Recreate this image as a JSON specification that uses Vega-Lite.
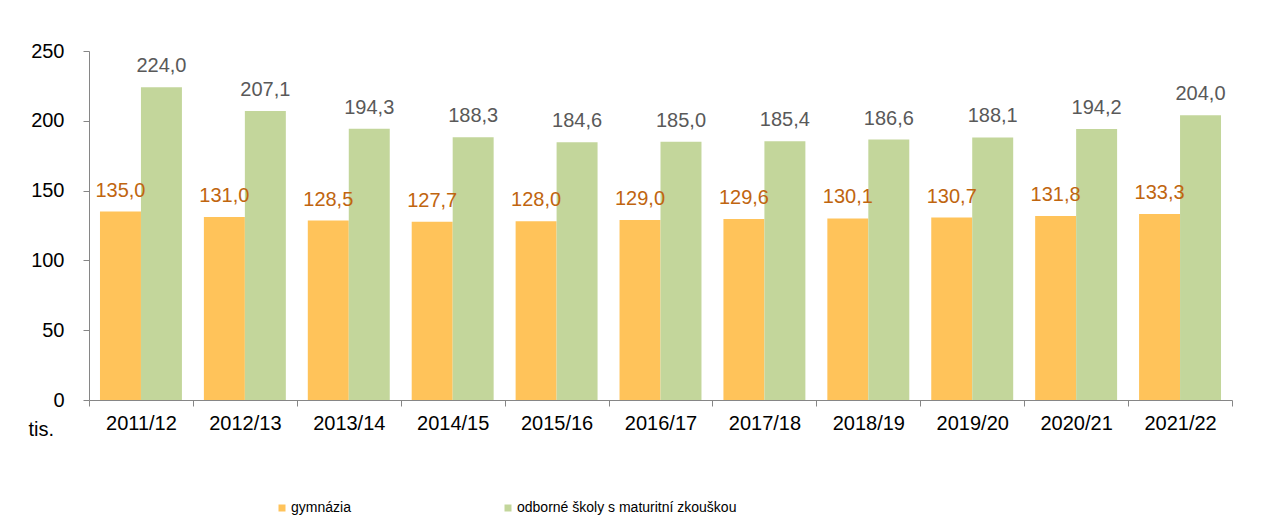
{
  "$schema": "https://vega.github.io/schema/vega-lite/v6.json",
  "width": 1143,
  "height": 349,
  "autosize": {"type": "none"},
  "padding": {"left": 89, "top": 51, "right": 52, "bottom": 131},
  "background": "white",
  "config": {
    "locale": {"number": {"decimal": ",", "thousands": " ", "grouping": [3], "currency": ["", " Kč"]}},
    "view": {"stroke": null},
    "font": "Liberation Sans"
  },
  "data": {
    "values": [
      {"rok": "2011/12", "typ": "gymnázia", "pocet": 135.0},
      {"rok": "2011/12", "typ": "odborné školy s maturitní zkouškou", "pocet": 224.0},
      {"rok": "2012/13", "typ": "gymnázia", "pocet": 131.0},
      {"rok": "2012/13", "typ": "odborné školy s maturitní zkouškou", "pocet": 207.1},
      {"rok": "2013/14", "typ": "gymnázia", "pocet": 128.5},
      {"rok": "2013/14", "typ": "odborné školy s maturitní zkouškou", "pocet": 194.3},
      {"rok": "2014/15", "typ": "gymnázia", "pocet": 127.7},
      {"rok": "2014/15", "typ": "odborné školy s maturitní zkouškou", "pocet": 188.3},
      {"rok": "2015/16", "typ": "gymnázia", "pocet": 128.0},
      {"rok": "2015/16", "typ": "odborné školy s maturitní zkouškou", "pocet": 184.6},
      {"rok": "2016/17", "typ": "gymnázia", "pocet": 129.0},
      {"rok": "2016/17", "typ": "odborné školy s maturitní zkouškou", "pocet": 185.0},
      {"rok": "2017/18", "typ": "gymnázia", "pocet": 129.6},
      {"rok": "2017/18", "typ": "odborné školy s maturitní zkouškou", "pocet": 185.4},
      {"rok": "2018/19", "typ": "gymnázia", "pocet": 130.1},
      {"rok": "2018/19", "typ": "odborné školy s maturitní zkouškou", "pocet": 186.6},
      {"rok": "2019/20", "typ": "gymnázia", "pocet": 130.7},
      {"rok": "2019/20", "typ": "odborné školy s maturitní zkouškou", "pocet": 188.1},
      {"rok": "2020/21", "typ": "gymnázia", "pocet": 131.8},
      {"rok": "2020/21", "typ": "odborné školy s maturitní zkouškou", "pocet": 194.2},
      {"rok": "2021/22", "typ": "gymnázia", "pocet": 133.3},
      {"rok": "2021/22", "typ": "odborné školy s maturitní zkouškou", "pocet": 204.0}
    ]
  },
  "encoding": {
    "x": {
      "field": "rok", "type": "nominal", "sort": null,
      "scale": {"paddingInner": 0, "paddingOuter": 0},
      "axis": {
        "title": null, "labelAngle": 0, "tickBand": "extent", "tickSize": 6,
        "labelPadding": 7, "labelFontSize": 20, "labelColor": "#000000",
        "domainColor": "#868686", "tickColor": "#868686", "grid": false
      }
    },
    "xOffset": {
      "field": "typ", "type": "nominal",
      "sort": ["gymnázia", "odborné školy s maturitní zkouškou"],
      "scale": {"paddingInner": 0, "paddingOuter": 0.268}
    },
    "y": {
      "field": "pocet", "type": "quantitative",
      "scale": {"domain": [0, 250], "nice": false},
      "axis": {
        "values": [0, 50, 100, 150, 200, 250], "grid": false,
        "domainColor": "#868686", "tickColor": "#868686", "tickSize": 6,
        "labelFontSize": 20, "labelColor": "#000000", "labelPadding": 19,
        "title": "tis.", "titleAngle": 0, "titleX": -61, "titleY": 384,
        "titleAlign": "left", "titleBaseline": "alphabetic", "titleFontSize": 20,
        "titleFontWeight": "normal", "titleColor": "#000000"
      }
    }
  },
  "layer": [
    {
      "mark": {"type": "bar"},
      "encoding": {
        "color": {
          "field": "typ", "type": "nominal",
          "sort": ["gymnázia", "odborné školy s maturitní zkouškou"],
          "scale": {"range": ["#FFC35A", "#C3D69B"]},
          "legend": {
            "orient": "none", "legendX": 186, "legendY": 450, "direction": "horizontal",
            "title": null, "symbolType": "square", "symbolSize": 49, "symbolStrokeWidth": 0,
            "labelFontSize": 14, "labelFont": "Liberation Sans", "labelColor": "#000000",
            "labelLimit": 0, "columnPadding": 150, "labelOffset": 2
          }
        }
      }
    },
    {
      "mark": {"type": "text", "baseline": "alphabetic", "dy": -15, "fontSize": 20},
      "encoding": {
        "text": {"field": "pocet", "type": "quantitative", "format": ".1f"},
        "color": {
          "condition": {"test": "datum.typ === 'gymnázia'", "value": "#C0650F"},
          "value": "#595959"
        }
      }
    }
  ]
}
